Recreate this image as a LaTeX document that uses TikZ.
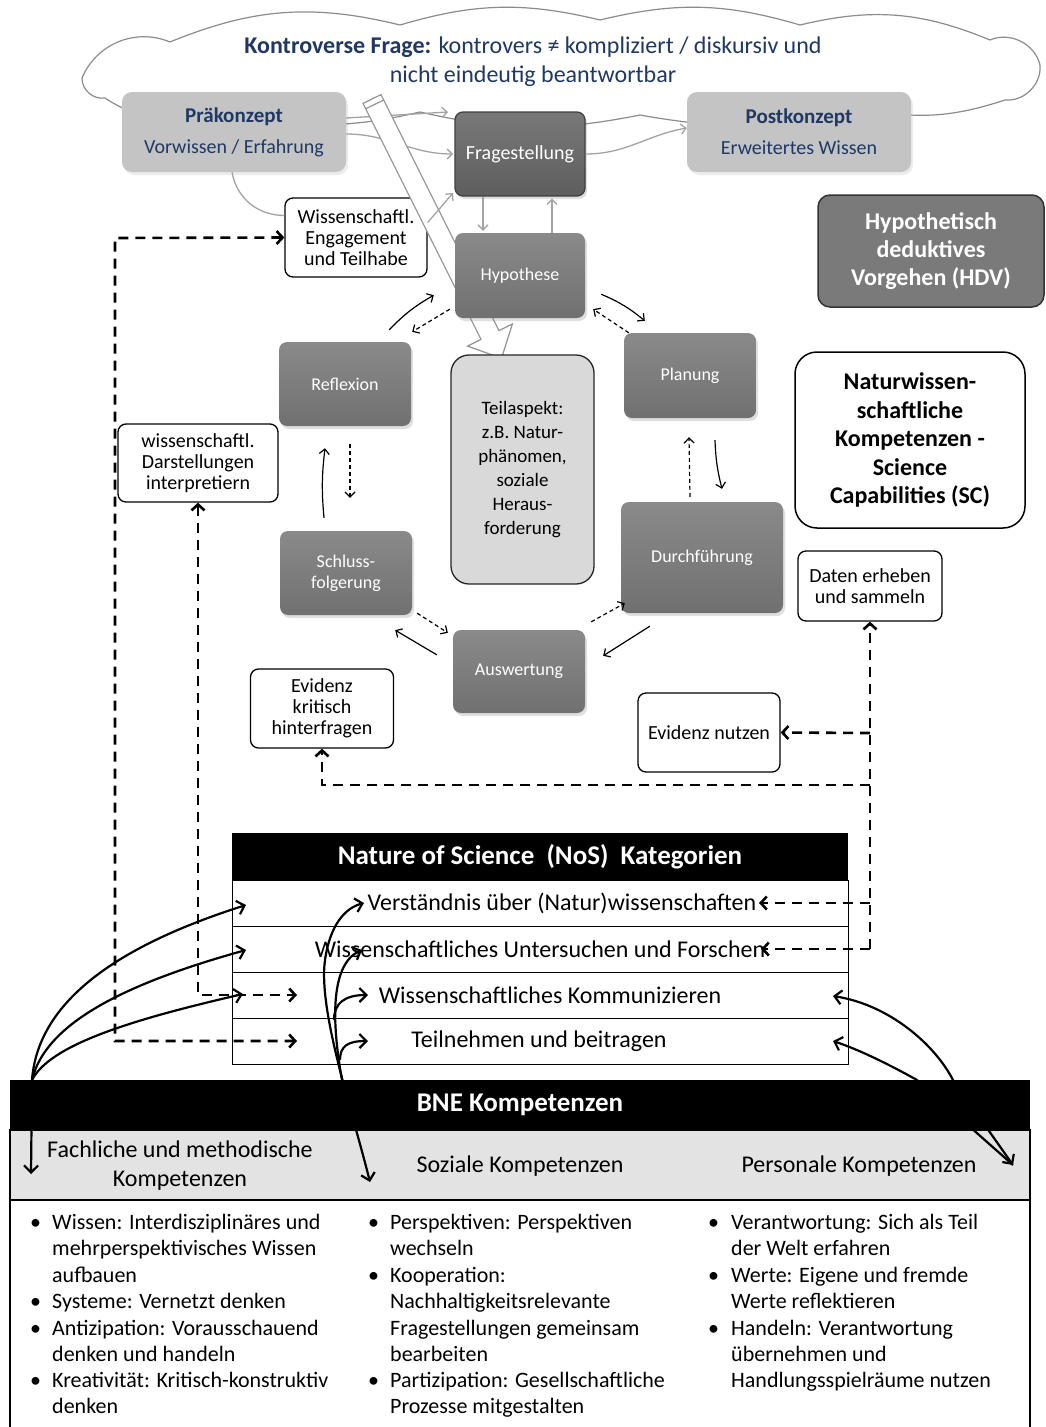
\documentclass[tikz,border=0pt]{standalone}
\usepackage{fontspec}
\setmainfont{Carlito}
\usetikzlibrary{arrows.meta,shadows,calc}
\definecolor{navy}{HTML}{1F3864}
\definecolor{procgray}{HTML}{7A7A7A}
\definecolor{fraggray}{HTML}{666666}
\definecolor{lightbox}{HTML}{C4C4C4}
\definecolor{conngray}{HTML}{A3A3A3}
\definecolor{teilgray}{HTML}{D9D9D9}
\definecolor{rowgray}{HTML}{E3E3E3}
\definecolor{cloudline}{HTML}{8C8C8C}
\newcommand\fsz[2]{\fontsize{#1}{#2}\selectfont}
\tikzset{
  proc/.style={rounded corners=8pt, top color=#1!88!white, bottom color=#1!92!black, text=white,
    font=\fsz{18}{21}, align=center, inner sep=2pt,
    drop shadow={opacity=0.25, shadow xshift=2pt, shadow yshift=-3pt}},
  proc/.default=procgray,
  lbox/.style={rounded corners=10pt, fill=lightbox, text=navy, align=center, font=\fsz{20}{23},
    inner sep=2pt, drop shadow={opacity=0.15, shadow xshift=2pt, shadow yshift=-3pt}},
  wbox/.style={draw=black, line width=1.3pt, fill=white, rounded corners=8pt, align=center,
    font=\fsz{20}{21}, inner sep=2pt},
  conn/.style={draw=conngray, line width=1.3pt, >={Straight Barb[length=5pt,width=10pt]}},
  cyc/.style={line width=1.2pt, >={Straight Barb[length=5pt,width=10pt]}},
  cycd/.style={cyc, dash pattern=on 4pt off 3pt},
  dsh/.style={line width=2.6pt, dash pattern=on 10pt off 7pt, >={Straight Barb[length=6pt,width=13pt]}},
  sol/.style={line width=2.2pt, >={Straight Barb[length=7pt,width=14pt]}},
  rowbox/.style={draw=black, line width=1pt, minimum width=616pt, minimum height=46pt, inner sep=0pt, fill=white},
  rowtxt/.style={font=\fsz{24}{28}, inner sep=0pt},
  bul/.style={anchor=base west, font=\fsz{22}{26}, inner sep=0pt},
}
\begin{document}
\begin{tikzpicture}[x=1pt,y=-1pt]
\useasboundingbox (0,0) rectangle (1046,1427);
\fill[white] (0,0) rectangle (1046,1427);

% cloud
\draw[draw=cloudline, fill=white, line width=1.2pt]
  (82,78) to[bend left=45] (170,42) to[bend left=18] (400,25) to[bend left=15] (600,20)
  to[bend left=15] (800,25) to[bend left=18] (990,40) to[bend left=50] (1040,65)
  to[bend left=50] (1005,100) to[bend left=15] (860,108) to[bend left=12] (640,115)
  to[bend left=12] (420,112) to[bend left=15] (210,105) to[bend left=30] (105,98)
  to[bend left=50] cycle;
\node[text=navy, font=\fsz{24}{29}, align=center] (cloudtxt) at (533,62)
  {\textbf{Kontroverse Frage:} kontrovers ≠ kompliziert / diskursiv und\\nicht eindeutig beantwortbar};

% boxes top
\node[lbox, minimum width=224pt, minimum height=80pt] (prae) at (234,132)
  {{\fontsize{21}{23}\selectfont\textbf{Präkonzept}}\\[8pt]Vorwissen / Erfahrung};
\node[lbox, minimum width=224pt, minimum height=80pt] (post) at (799,132)
  {{\fontsize{21}{23}\selectfont\textbf{Postkonzept}}\\[8pt]Erweitertes Wissen};
\node[wbox, minimum width=142pt, minimum height=79pt] (eng) at (356,237.5)
  {Wissenschaftl.\\Engagement\\und Teilhabe};

% gray connectors behind the white arrow
\draw[conn,->] ([yshift=14pt]prae.east) -- (448,112);
\draw[conn,->] ([yshift=-2pt]prae.east) to[out=0,in=180] (453,154);
\draw[conn] ([xshift=-2pt]prae.south) to[out=-80,in=180] ([yshift=22pt]eng.west);

% white block arrow
\draw[draw=gray!85, fill=white, line width=1.2pt]
  (381,94.6) -- (499,330.6) -- (512.4,323.9) -- (501.5,358.3) -- (467.6,346.1)
  -- (481,339.4) -- (363,103.4) -- cycle;
\draw[draw=gray!85, line width=1.2pt] (383.7,100) -- (365.7,108.8);

% process boxes
\node[proc=fraggray, draw=black!75, line width=1.3pt, minimum width=130pt, minimum height=84pt,
  font=\fsz{20}{22}] (frage) at (520,154) {Fragestellung};
\node[proc, minimum width=130pt, minimum height=85pt] (hypo) at (520,275.5) {Hypothese};
\node[proc, minimum width=132pt, minimum height=85pt] (plan) at (690,375.5) {Planung};
\node[proc, minimum width=162pt, minimum height=111pt] (durch) at (702,557.5) {Durchführung};
\node[proc, minimum width=132pt, minimum height=83pt] (ausw) at (519,671.5) {Auswertung};
\node[proc, minimum width=132pt, minimum height=84pt] (schluss) at (346,573) {Schluss-\\folgerung};
\node[proc, minimum width=132pt, minimum height=84pt] (refl) at (345,384) {Reflexion};
\node[draw=black!85, line width=1.3pt, fill=teilgray, rounded corners=18pt, minimum width=143pt,
  minimum height=229pt, align=center, font=\fsz{19}{24}, inner sep=2pt] (teil) at (522.5,469.5)
  {Teilaspekt:\\z.B. Natur-\\phänomen,\\soziale\\Heraus-\\forderung};

% gray connectors on top
\draw[conn,->] ([yshift=15pt]eng.east) -- (453,193);
\draw[conn,->] ([xshift=-37pt]frage.south) -- ([xshift=-37pt,yshift=2pt]hypo.north);
\draw[conn,->] ([xshift=32pt]hypo.north) -- ([xshift=32pt,yshift=-2pt]frage.south);
\draw[conn,->] (frage.east) to[out=0,in=190] ([yshift=4pt]post.west);

% right side boxes
\node[draw=black!80, line width=1.5pt, fill=procgray, rounded corners=12pt, minimum width=226pt,
  minimum height=112pt, text=white, align=center, font=\bfseries\fsz{24}{28}] (hdv) at (931,251)
  {Hypothetisch\\deduktives\\Vorgehen (HDV)};
\node[draw=black, line width=1.5pt, fill=white, rounded corners=22pt, minimum width=230pt,
  minimum height=176pt, align=center, font=\bfseries\fsz{24}{28.5}] (sc) at (910,440)
  {Naturwissen-\\schaftliche\\Kompetenzen -\\Science\\Capabilities (SC)};

% small white boxes
\node[wbox, minimum width=160pt, minimum height=78pt] (darst) at (198,463)
  {wissenschaftl.\\Darstellungen\\interpretiern};
\node[wbox, minimum width=144pt, minimum height=70pt] (daten) at (870,586)
  {Daten erheben\\und sammeln};
\node[wbox, minimum width=143pt, minimum height=79pt] (evk) at (322,708.5)
  {Evidenz\\kritisch\\hinterfragen};
\node[wbox, minimum width=142pt, minimum height=79pt] (evn) at (709,732.5) {Evidenz nutzen};

% cycle arrows
\draw[cyc,->] ([shift={(-22,-12)}]refl.north east) to[bend left=8] ([shift={(-21,-23)}]hypo.south west);
\draw[cycd,->] ([shift={(-5,-9)}]hypo.south west) -- ([shift={(1,-10)}]refl.north east);
\draw[cyc,->] ([shift={(16,-24)}]hypo.south east) to[bend left=8] ([shift={(21,-12)}]plan.north west);
\draw[cycd,->] ([shift={(5,0)}]plan.north west) -- ([shift={(8,-9)}]hypo.south east);
\draw[cyc,->] ([shift={(25,22)}]plan.south) to[bend right=6] ([shift={(20,-13)}]durch.north);
\draw[cycd,->] ([shift={(-12,-5)}]durch.north) -- ([shift={(-1,19)}]plan.south);
\draw[cyc,->] ([shift={(29,13)}]durch.south west) -- ([shift={(18,26)}]ausw.north east);
\draw[cycd,->] ([shift={(6,-8)}]ausw.north east) -- ([shift={(4,-10)}]durch.south west);
\draw[cyc,->] ([shift={(-16,25)}]ausw.north west) -- ([shift={(-17,15)}]schluss.south east);
\draw[cycd,->] ([shift={(5,-2)}]schluss.south east) -- ([shift={(-5,3)}]ausw.north west);
\draw[cyc,->] ([shift={(-22,-13)}]schluss.north) to[bend left=6] ([shift={(-20,22)}]refl.south);
\draw[cycd,->] ([shift={(5,18)}]refl.south) -- ([shift={(4,-33)}]schluss.north);

% NoS table
\node[fill=black, minimum width=616pt, minimum height=47pt, inner sep=0pt, text=white,
  font=\bfseries\fsz{27}{30}] (nosh) at (540,856.5) {Nature of Science\ \ (NoS)\ \ Kategorien};
\node[rowbox] (r1) at (540,903) {};
\node[rowbox] (r2) at (540,949) {};
\node[rowbox] (r3) at (540,995) {};
\node[rowbox] (r4) at (540,1041) {};
\node[rowtxt] (t1) at (562,903) {Verständnis über (Natur)wissenschaften};
\node[rowtxt] (t2) at (540,949) {Wissenschaftliches Untersuchen und Forschen};
\node[rowtxt] (t3) at (550,995) {Wissenschaftliches Kommunizieren};
\node[rowtxt] (t4) at (539,1041) {Teilnehmen und beitragen};

% BNE table
\node[fill=black, minimum width=1020pt, minimum height=50pt, inner sep=0pt, text=white,
  font=\bfseries\fsz{27}{30}] (bneh) at (520,1105) {BNE Kompetenzen};
\node[draw=black, line width=2pt, fill=rowgray, minimum width=1020pt, minimum height=70pt,
  inner sep=0pt] (bnerow) at (520,1165) {};
\node[draw=black, line width=2pt, fill=white, minimum width=1020pt, minimum height=240pt,
  inner sep=0pt] (bnebody) at (520,1320) {};
\node[font=\fsz{24}{29}, align=center] (ch1) at (180,1165.5) {Fachliche und methodische\\Kompetenzen};
\node[font=\fsz{24}{29}] (ch2) at (520,1166) {Soziale Kompetenzen};
\node[font=\fsz{24}{29}] (ch3) at (859,1166) {Personale Kompetenzen};

% bullets
\foreach \bx/\tx/\yy/\b/\t [count=\i] in {
  30/52/1229/1/{Wissen: Interdisziplinäres und},
  30/52/1255/0/{mehrperspektivisches Wissen},
  30/52/1282/0/{aufbauen},
  30/52/1308/1/{Systeme: Vernetzt denken},
  30/52/1335/1/{Antizipation: Vorausschauend},
  30/52/1361/0/{denken und handeln},
  30/52/1387/1/{Kreativität: Kritisch-konstruktiv},
  30/52/1413/0/{denken},
  368/390/1229/1/{Perspektiven: Perspektiven},
  368/390/1255/0/{wechseln},
  368/390/1282/1/{Kooperation:},
  368/390/1308/0/{Nachhaltigkeitsrelevante},
  368/390/1335/0/{Fragestellungen gemeinsam},
  368/390/1361/0/{bearbeiten},
  368/390/1387/1/{Partizipation: Gesellschaftliche},
  368/390/1413/0/{Prozesse mitgestalten},
  708/731/1229/1/{Verantwortung: Sich als Teil},
  708/731/1255/0/{der Welt erfahren},
  708/731/1282/1/{Werte: Eigene und fremde},
  708/731/1308/0/{Werte reflektieren},
  708/731/1335/1/{Handeln: Verantwortung},
  708/731/1361/0/{übernehmen und},
  708/731/1387/0/{Handlungsspielräume nutzen}} {
  \node[bul] (bl\i) at (\tx,\yy) {\t};
  \ifnum\b=1 \node[bul] (bd\i) at (\bx,\yy) {•};\fi
}

% dashed connectors
\coordinate (L1) at (115,238);
\coordinate (L2) at (115,1041);
\coordinate (T4l) at (297,1041);
\coordinate (M2) at (198,995);
\coordinate (T3l) at (297,995);
\draw[dsh,<->] (eng.west) -- (L1) -- (L2) -- (T4l);
\draw[dsh,<->] (darst.south) -- (M2) -- (T3l);
\coordinate (R4) at (870,949);
\coordinate (R3) at (870,903);
\coordinate (Rn) at (870,733);
\coordinate (Rk) at (870,785);
\coordinate (K1) at (322,785);
\coordinate (T1r) at (759,903);
\coordinate (T2r) at (761,949);
\draw[dsh,->] (R4) -- (daten.south);
\draw[dsh,->] (R4) -- (T2r);
\draw[dsh,->] (R3) -- (T1r);
\draw[dsh,->] (Rn) -- (evn.east);
\draw[dsh,->] (Rk) -- (K1) -- (evk.south);

% solid curved connectors
\coordinate (lS) at (32,1080);
\coordinate (lT1) at (246,905);
\coordinate (lT2) at (246,950);
\coordinate (lT3) at (243,994);
\coordinate (lT4) at (31,1174);
\draw[sol,->] (lS) .. controls (38,1000) and (120,945) .. (lT1);
\draw[sol,->] (lS) .. controls (45,1025) and (120,985) .. (lT2);
\draw[sol,->] (lS) .. controls (50,1045) and (130,1020) .. (lT3);
\draw[sol,->] (lS) -- (lT4);
\coordinate (sozT) at (370,1182);
\coordinate (mT1) at (364,903);
\coordinate (mS) at (342,1080);
\coordinate (mT2) at (362,950);
\coordinate (kS) at (334,1020);
\coordinate (mT3) at (368,995);
\coordinate (tS) at (340,1060);
\coordinate (mT4) at (368,1041);
\draw[sol,<->] (sozT) .. controls (352,1110) and (318,1010) .. (325,960) .. controls (330,925) and (345,908) .. (mT1);
\draw[sol,->] (mS) .. controls (333,1030) and (328,965) .. (mT2);
\draw[sol,->] (kS) .. controls (334,1003) and (345,995) .. (mT3);
\draw[sol,->] (tS) .. controls (340,1046) and (348,1041) .. (mT4);
\coordinate (rS1) at (953,1080);
\coordinate (rS2) at (917,1080);
\coordinate (rT3) at (833,996);
\coordinate (rT4) at (833,1041);
\coordinate (persT) at (1013,1165);
\draw[sol,->] (rS1) .. controls (935,1045) and (890,1005) .. (rT3);
\draw[sol,->] (rS2) .. controls (890,1065) and (860,1050) .. (rT4);
\draw[sol,->] (rS1) -- (persT);
\draw[sol] (rS2) -- (persT);
\end{tikzpicture}
\end{document}
